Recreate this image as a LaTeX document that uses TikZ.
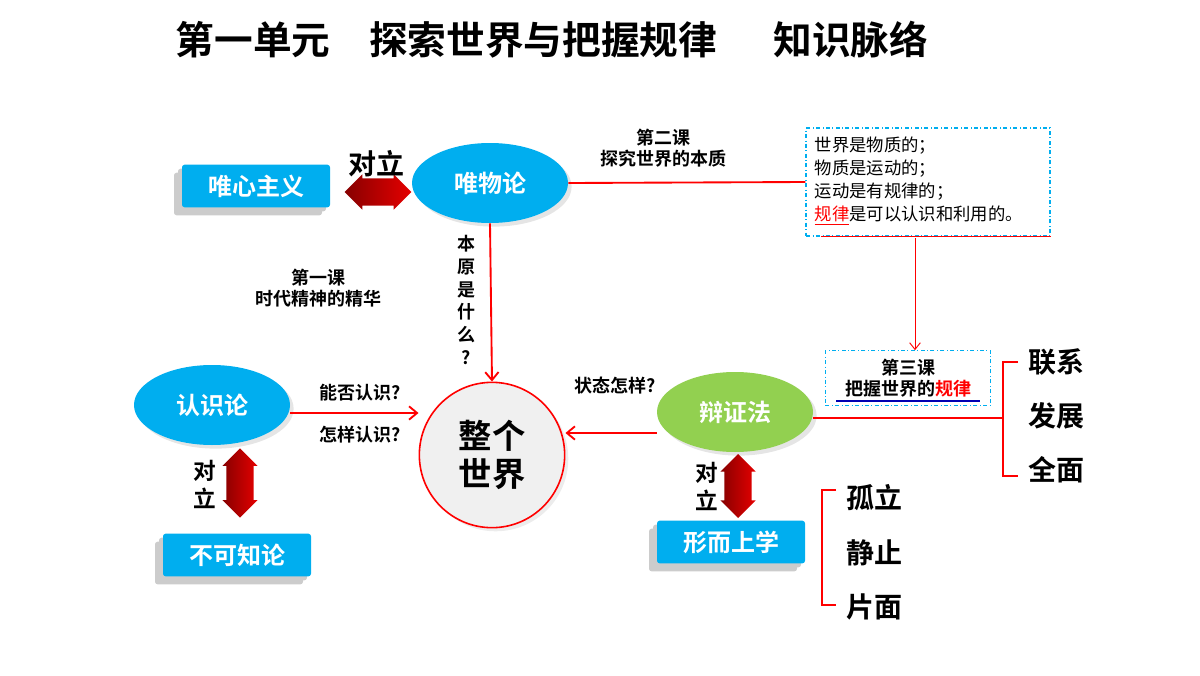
\documentclass[tikz,border=0pt]{standalone}
\usepackage{fontspec}
\setmainfont{Noto Sans CJK SC}
\newfontfamily\cjkb{Noto Sans CJK SC Bold}
\newfontfamily\song{Noto Sans CJK SC}
\usetikzlibrary{shapes.arrows,shapes.geometric,shadows,arrows.meta}
\definecolor{cb}{HTML}{00AEEF}
\definecolor{cg}{HTML}{92D050}
\definecolor{dr}{HTML}{C00000}
\begin{document}
\begin{tikzpicture}[x=0.75pt,y=-0.75pt,
  bx/.style={fill=cb,rounded corners=2pt,minimum width=111pt,minimum height=32pt,text=white,font=\cjkb\fontsize{18}{18}\selectfont,
    double copy shadow={shadow xshift=-3pt,shadow yshift=-3pt,fill=gray!40,draw=none}},
  el/.style={ellipse,fill=cb,minimum width=117pt,minimum height=60pt,text=white,font=\cjkb\fontsize{18}{18}\selectfont,drop shadow={fill=gray!40}},
  lb/.style={font=\cjkb\fontsize{13.5}{16}\selectfont,align=center},
  big/.style={font=\cjkb\fontsize{21}{22}\selectfont},
  dar/.style={double arrow,double arrow head extend=3pt,minimum height=50pt,inner xsep=0pt,inner ysep=4pt,shade,left color=dr!70!black,right color=red!90!black},
  ra/.style={red,line width=1.4pt,-{Straight Barb[length=6pt,width=10pt]}},
  dd/.style={cb,dash dot,line width=0.8pt}]
\useasboundingbox (0,0) rectangle (1200,675);
\node[font=\cjkb\fontsize{29}{29}\selectfont] (title) at (552,40) {第一单元\quad 探索世界与把握规律\quad\ \ 知识脉络};
\node[bx] (wx) at (256,186) {唯心主义};
\node[el] (wwl) at (490,183) {唯物论};
\node[dar] (d1) at (378,192) {\strut};
\node[font=\cjkb\fontsize{21}{21}\selectfont] (dl1) at (376,164) {对立};
\node[draw=red,line width=1.2pt,circle,minimum size=109pt,fill=gray!12,font=\cjkb\fontsize{25}{29}\selectfont,align=center,drop shadow={fill=gray!30}] (world) at (492,455) {整个\\世界};
\node[lb] (k2) at (663,148) {第二课\\探究世界的本质};
\node[lb] (k1) at (318,288) {第一课\\时代精神的精华};
\node[draw,dd,minimum width=183pt,minimum height=81pt] (box1) at (928,182) {};
\node[anchor=west,align=left,font=\song\fontsize{13}{17.3}\selectfont] (t1) at (810,181) {世界是物质的；\\物质是运动的；\\运动是有规律的；\\\textcolor{red}{\underline{规律}}是可以认识和利用的。};
\draw[red,line width=1.2pt] (box1.south west) ++(12pt,0) coordinate (u1) -- (box1.south east);
\draw[red,line width=1.4pt] (wwl.east) -- (box1.west);
\node[draw,dd,minimum width=124pt,minimum height=41pt] (box3) at (908,378) {};
\node[lb] (t3) at (908,378) {第三课\\把握世界的\textcolor{red}{规律}};
\draw[blue!70!black,line width=0.8pt] (836,401) -- (980,401);
\draw[red,line width=0.7pt,-{Straight Barb[length=5pt,width=8pt]}] (915,238) -- (box3.north -| 915,0);
\node[el,fill=cg] (bzf) at (735,412) {辩证法};
\draw[red,line width=1.6pt] (bzf.east |- 0,418) coordinate (b0) -- (1003,418);
\draw[red,line width=1.8pt] (1018,362) -- (1003,362) -- (1003,476) -- (1018,476);
\node[big] (lx) at (1056,362) {联系};
\node[big] (fz) at (1056,416) {发展};
\node[big] (qm) at (1056,470) {全面};
\node[lb] (ztzy) at (615,386) {状态怎样?};
\draw[ra] (bzf.west |- 0,433) -- (world.east |- 0,433);
\draw[ra] (wwl.south) -- (world.north);
\node[lb,align=center,font=\cjkb\fontsize{13.5}{17}\selectfont] (by) at (466,300) {本\\原\\是\\什\\么\\?};
\node[el] (rsl) at (212,405) {认识论};
\node[lb] (q1) at (360,393) {能否认识?};
\node[lb] (q2) at (360,435) {怎样认识?};
\draw[ra] (rsl.east |- 0,413) -- (world.west |- 0,413);
\node[dar,rotate=90,minimum height=52pt] (d2) at (240,483) {\strut};
\node[font=\cjkb\fontsize{17}{21}\selectfont,align=center] (dl2) at (205,484) {对\\立};
\node[bx] (bkz) at (237,555) {不可知论};
\node[dar,rotate=90,minimum height=48pt] (d3) at (738,486) {\strut};
\node[font=\cjkb\fontsize{17}{21}\selectfont,align=center] (dl3) at (707,486) {对\\立};
\node[bx] (xs) at (731,542) {形而上学};
\draw[red,line width=1.8pt] (836,490) -- (822,490) -- (822,605) -- (836,605);
\node[big] (gl) at (874,498) {孤立};
\node[big] (jz) at (874,553) {静止};
\node[big] (pm) at (874,607) {片面};
\end{tikzpicture}
\end{document}
